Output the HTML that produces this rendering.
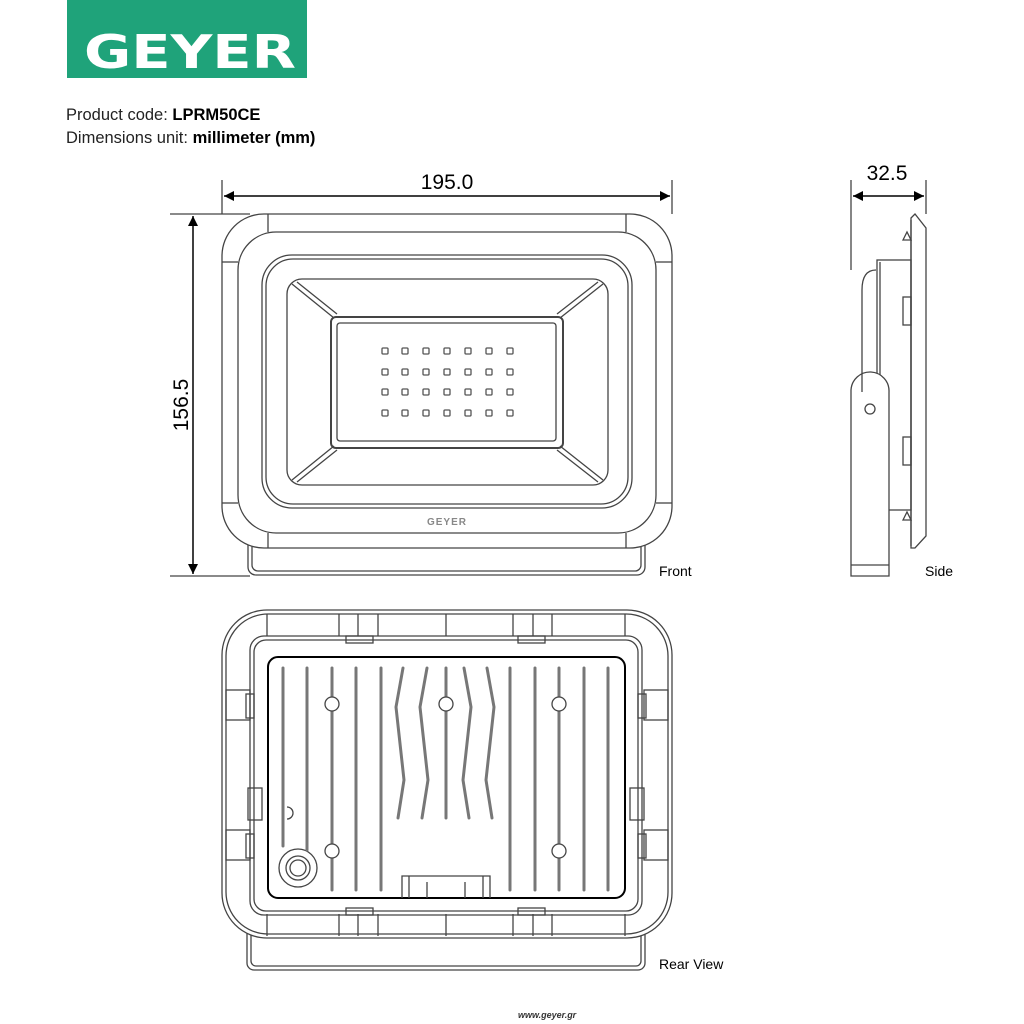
<!DOCTYPE html>
<html><head><meta charset="utf-8"><style>
html,body{margin:0;padding:0;background:#fff;}
svg{display:block;}
text{font-family:"Liberation Sans",sans-serif;}
</style></head><body>
<svg width="1024" height="1024" viewBox="0 0 1024 1024" xmlns="http://www.w3.org/2000/svg">
<defs>
<marker id="ar" viewBox="0 0 10 10" refX="10" refY="5" markerWidth="16" markerHeight="10" markerUnits="userSpaceOnUse" orient="auto-start-reverse"><path d="M0,0 L10,5 L0,10 z" fill="#000"/></marker>
</defs>
<!-- logo -->
<rect x="67" y="0" width="240" height="78" fill="#1fa37a"/>
<text x="190" y="68" text-anchor="middle" font-size="46" font-weight="bold" fill="#fff" style="font-family:'DejaVu Sans',sans-serif" textLength="212" lengthAdjust="spacingAndGlyphs">GEYER</text>
<text x="66" y="120" font-size="16.5" fill="#222">Product code: <tspan font-weight="bold" fill="#000">LPRM50CE</tspan></text>
<text x="66" y="143" font-size="16.5" fill="#222">Dimensions unit: <tspan font-weight="bold" fill="#000">millimeter (mm)</tspan></text>

<g fill="none" stroke="#444" stroke-width="1.3">
<!-- FRONT dims -->
<line x1="222" y1="180" x2="222" y2="214"/><line x1="672" y1="180" x2="672" y2="214"/>
<line x1="224" y1="196" x2="670" y2="196" stroke="#000" stroke-width="1.5" marker-start="url(#ar)" marker-end="url(#ar)"/>
<line x1="170" y1="214" x2="250" y2="214"/><line x1="170" y1="576" x2="250" y2="576"/>
<line x1="193" y1="216" x2="193" y2="574" stroke="#000" stroke-width="1.5" marker-start="url(#ar)" marker-end="url(#ar)"/>
<!-- front body -->
<rect x="248" y="530" width="397" height="45" rx="8"/>
<rect x="252" y="534" width="389" height="37" rx="6"/>
<rect x="222" y="214" width="450" height="334" rx="42" fill="#fff"/>
<rect x="238" y="232" width="418" height="301" rx="38"/>
<line x1="268" y1="214" x2="268" y2="232"/><line x1="626" y1="214" x2="626" y2="232"/>
<line x1="268" y1="533" x2="268" y2="548"/><line x1="626" y1="533" x2="626" y2="548"/>
<line x1="222" y1="262" x2="238" y2="262"/><line x1="656" y1="262" x2="672" y2="262"/>
<line x1="222" y1="503" x2="238" y2="503"/><line x1="656" y1="503" x2="672" y2="503"/>
<rect x="262" y="255" width="370" height="253" rx="30"/>
<rect x="266" y="259" width="362" height="245" rx="27"/>
<rect x="287" y="279" width="321" height="206" rx="15"/>
<line x1="292" y1="284" x2="334" y2="318"/><line x1="297" y1="282" x2="337" y2="314"/>
<line x1="603" y1="284" x2="560" y2="318"/><line x1="598" y1="282" x2="557" y2="314"/>
<line x1="292" y1="480" x2="334" y2="446"/><line x1="297" y1="482" x2="337" y2="450"/>
<line x1="603" y1="480" x2="560" y2="446"/><line x1="598" y1="482" x2="557" y2="450"/>
<rect x="331" y="317" width="232" height="131" rx="5" stroke-width="2"/>
<rect x="337" y="323" width="219" height="118" rx="3"/>
</g>
<g fill="none" stroke="#555" stroke-width="1.3">
<g id="leds">
<rect x="382" y="348" width="6" height="6" rx="1"/><rect x="402" y="348" width="6" height="6" rx="1"/><rect x="423" y="348" width="6" height="6" rx="1"/><rect x="444" y="348" width="6" height="6" rx="1"/><rect x="465" y="348" width="6" height="6" rx="1"/><rect x="486" y="348" width="6" height="6" rx="1"/><rect x="507" y="348" width="6" height="6" rx="1"/>
</g>
<use href="#leds" y="21"/><use href="#leds" y="41"/><use href="#leds" y="62"/>
</g>
<text x="447" y="525" text-anchor="middle" font-size="10" font-weight="bold" fill="#888" letter-spacing="1">GEYER</text>
<text x="447" y="189" text-anchor="middle" font-size="21" fill="#000">195.0</text>
<text transform="translate(188,405) rotate(-90)" text-anchor="middle" font-size="21" fill="#000">156.5</text>
<text x="659" y="576" font-size="14" fill="#000">Front</text>

<!-- SIDE -->
<g fill="none" stroke="#444" stroke-width="1.3">
<line x1="851" y1="180" x2="851" y2="270"/><line x1="926" y1="180" x2="926" y2="214"/>
<line x1="853" y1="196" x2="924" y2="196" stroke="#000" stroke-width="1.5" marker-start="url(#ar)" marker-end="url(#ar)"/>
<path d="M911,218 L915,214 L926,228 L926,536 L915,548 L911,548 Z"/>
<line x1="911" y1="220" x2="911" y2="546"/>
<rect x="877" y="260" width="34" height="250"/>
<line x1="880" y1="262" x2="880" y2="392"/>
<path d="M851,576 L851,390 A19,19 0 0 1 889,392 L889,576 Z" fill="#fff"/>
<path d="M862,392 L862,290 Q862,270 876,270"/>
<line x1="851" y1="565" x2="889" y2="565"/>
<circle cx="870" cy="409" r="5"/>
<rect x="903" y="297" width="8" height="28"/><rect x="903" y="437" width="8" height="28"/>
<path d="M903,240 L907,232 L911,240 Z"/><path d="M903,520 L907,512 L911,520 Z"/>
</g>
<text x="887" y="180" text-anchor="middle" font-size="21" fill="#000">32.5</text>
<text x="925" y="576" font-size="14" fill="#000">Side</text>

<!-- REAR -->
<g fill="none" stroke="#444" stroke-width="1.3">
<rect x="247" y="905" width="398" height="65" rx="7"/>
<rect x="251" y="909" width="390" height="57" rx="5"/>
<rect x="222" y="610" width="450" height="328" rx="45" fill="#fff"/>
<rect x="226" y="614" width="442" height="320" rx="42"/>
<rect x="250" y="636" width="392" height="279" rx="14"/>
<rect x="254" y="640" width="384" height="271" rx="12"/>
<rect x="268" y="657" width="357" height="241" rx="10" stroke="#000" stroke-width="2"/>
<g id="tabs">
<line x1="339" y1="614" x2="339" y2="636"/><line x1="358" y1="614" x2="358" y2="636"/><line x1="378" y1="614" x2="378" y2="636"/>
<line x1="446" y1="614" x2="446" y2="636"/>
<line x1="513" y1="614" x2="513" y2="636"/><line x1="533" y1="614" x2="533" y2="636"/><line x1="552" y1="614" x2="552" y2="636"/>
<line x1="267" y1="614" x2="267" y2="636"/><line x1="625" y1="614" x2="625" y2="636"/>
</g>
<use href="#tabs" y="300"/>
<rect x="346" y="636" width="27" height="7"/><rect x="518" y="636" width="27" height="7"/>
<rect x="346" y="908" width="27" height="7"/><rect x="518" y="908" width="27" height="7"/>
<rect x="226" y="690" width="24" height="30"/><rect x="246" y="694" width="8" height="24"/>
<rect x="226" y="830" width="24" height="30"/><rect x="246" y="834" width="8" height="24"/>
<rect x="248" y="788" width="14" height="32"/>
<rect x="644" y="690" width="24" height="30"/><rect x="638" y="694" width="8" height="24"/>
<rect x="644" y="830" width="24" height="30"/><rect x="638" y="834" width="8" height="24"/>
<rect x="630" y="788" width="14" height="32"/>
<path d="M402,898 L402,876 L490,876 L490,898"/><line x1="409" y1="876" x2="409" y2="898"/><line x1="483" y1="876" x2="483" y2="898"/>
<line x1="427" y1="882" x2="427" y2="898"/><line x1="465" y1="882" x2="465" y2="898"/>
<circle cx="298" cy="868" r="19"/><circle cx="298" cy="868" r="12"/><circle cx="298" cy="868" r="8"/>
<path d="M287,807 A6,6 0 1 1 287,819"/>
</g>
<g fill="none" stroke="#777" stroke-width="3" stroke-linecap="round">
<line x1="283" y1="668" x2="283" y2="846"/><line x1="307" y1="668" x2="307" y2="850"/>
<line x1="332" y1="668" x2="332" y2="890"/><line x1="356" y1="668" x2="356" y2="890"/><line x1="381" y1="668" x2="381" y2="890"/>
<path d="M403,668 L396,707 L404,780 L398,818"/><path d="M427,668 L420,707 L428,780 L422,818"/>
<line x1="446" y1="668" x2="446" y2="818"/>
<path d="M464,668 L471,707 L463,780 L469,818"/><path d="M487,668 L494,707 L486,780 L492,818"/>
<line x1="510" y1="668" x2="510" y2="890"/><line x1="535" y1="668" x2="535" y2="890"/><line x1="559" y1="668" x2="559" y2="890"/>
<line x1="584" y1="668" x2="584" y2="890"/><line x1="608" y1="668" x2="608" y2="890"/>
</g>
<g fill="#fff" stroke="#444" stroke-width="1.3">
<circle cx="332" cy="704" r="7"/><circle cx="446" cy="704" r="7"/><circle cx="559" cy="704" r="7"/>
<circle cx="332" cy="851" r="7"/><circle cx="559" cy="851" r="7"/>
</g>
<text x="659" y="969" font-size="14" fill="#000">Rear View</text>
<text x="518" y="1018" font-size="9" font-style="italic" font-weight="bold" fill="#333">www.geyer.gr</text>
</svg>
</body></html>
